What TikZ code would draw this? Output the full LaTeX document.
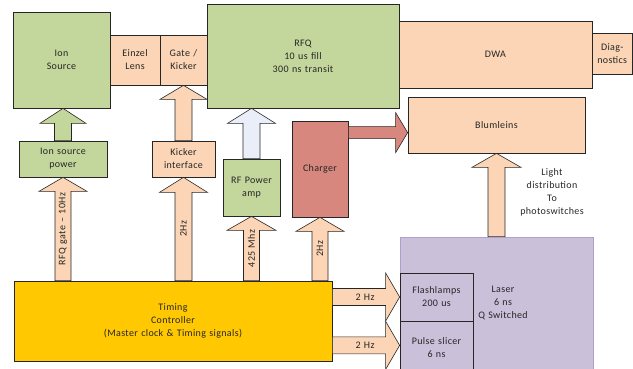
\documentclass[tikz,border=0pt]{standalone}
\usepackage{fontspec}
\setmainfont{Carlito}[LetterSpace=3.5,WordSpace=1.3]
\usetikzlibrary{calc}
\definecolor{cgreen}{HTML}{C3D69B}
\definecolor{cpeach}{HTML}{FBD5B5}
\definecolor{cblue}{HTML}{E9EEF8}
\definecolor{cred}{HTML}{D8877E}
\definecolor{cgold}{HTML}{FFC800}
\definecolor{cpurple}{HTML}{CAC0DA}
\definecolor{cpurpleline}{HTML}{B09FCB}
\definecolor{ctext}{HTML}{262626}
\newcommand\varr[6]{%
  \path[#1] let \p1=#2, \p2=#3 in
   (\x1-#4pt,\y2) -- (\x1-#4pt,\y1-#6pt) -- (\x1-#5pt,\y1-#6pt) -- (\x1,\y1)
   -- (\x1+#5pt,\y1-#6pt) -- (\x1+#4pt,\y1-#6pt) -- (\x1+#4pt,\y2) -- cycle;}
\newcommand\harr[6]{%
  \path[#1] let \p1=#2, \p2=#3 in
   (\x2,\y1-#4pt) -- (\x1-#6pt,\y1-#4pt) -- (\x1-#6pt,\y1-#5pt) -- (\x1,\y1)
   -- (\x1-#6pt,\y1+#5pt) -- (\x1-#6pt,\y1+#4pt) -- (\x2,\y1+#4pt) -- cycle;}
\begin{document}
\begin{tikzpicture}[x=1pt,y=-1pt,
  every node/.style={font=\fontsize{10}{13}\selectfont, text=ctext},
  box/.style={draw=black!85, line width=0.7pt, inner sep=0pt, align=center},
  blockarr/.style={draw=black!85, line width=0.6pt, fill=#1},
  lbl/.style={inner sep=0pt, align=center}]
\useasboundingbox (0,0) rectangle (633,368);
% top row
\node[box, fill=cgreen, minimum width=97, minimum height=96] (ion) at (61.5,60) {Ion\\Source};
\node[box, fill=cpeach, minimum width=50, minimum height=50] (einzel) at (135,60) {Einzel\\Lens};
\node[box, fill=cpeach, minimum width=47, minimum height=50] (gate) at (183.5,60) {Gate /\\Kicker};
\node[box, fill=cgreen, minimum width=192, minimum height=104] (rfq) at (303,56) {RFQ\\10 us fill\\300 ns transit};
\node[box, fill=cpeach, minimum width=193, minimum height=67] (dwa) at (495.5,54.5) {DWA};
\node[box, fill=cpeach, minimum width=40.5, minimum height=41] (diag) at (612.25,53.5) {Diag-\\nostics};
\node[box, fill=cpeach, minimum width=177, minimum height=56] (blum) at (496.5,125) {Blumleins};
% middle row
\node[box, fill=cgreen, minimum width=88, minimum height=36] (isp) at (63,159) {Ion source\\power};
\node[box, fill=cpeach, minimum width=63, minimum height=36] (kick) at (183.5,159) {Kicker\\interface};
\node[box, fill=cgreen, minimum width=57, minimum height=57] (rfamp) at (251.5,187.5) {RF Power\\amp};
\node[box, fill=cred, minimum width=56, minimum height=96] (charger) at (320,169) {Charger};
% bottom row
\node[box, fill=cgold, minimum width=318, minimum height=80] (tim) at (173,321) {Timing\\Controller\\(Master clock \& Timing signals)};
\node[box, draw=cpurpleline, fill=cpurple, minimum width=193, minimum height=138] (laser) at (496.5,306) {};
\node[box, fill=cpurple, minimum width=73, minimum height=48] (flash) at (436.5,297) {Flashlamps\\200 us};
\node[box, fill=cpurple, minimum width=73, minimum height=54] (pulse) at (436.5,348) {Pulse slicer\\6 ns};
\node[lbl] (lasertxt) at (503,303) {Laser\\6 ns\\Q Switched};
\node[lbl] (light) at (552,192) {Light\\distribution\\To\\photoswitches};
% block arrows
\varr{blockarr=cpeach}{(isp.south)}{(tim.north)}{8}{24}{14}
\varr{blockarr=cgreen}{(isp.north |- ion.south)}{(isp.north)}{8.5}{23}{15}
\varr{blockarr=cpeach}{(kick.south)}{(tim.north)}{8.5}{24}{15}
\varr{blockarr=cpeach}{(gate.south)}{(kick.north)}{8.5}{23.5}{14}
\varr{blockarr=cpeach}{(rfamp.south)}{(tim.north)}{8}{24.5}{14}
\varr{blockarr=cblue}{(rfamp.north |- rfq.south)}{(rfamp.north)}{8.5}{24}{15}
\varr{blockarr=cpeach}{(charger.south)}{(tim.north)}{8}{24}{14}
\varr{blockarr=cpeach}{(blum.south)}{(laser.north)}{8.5}{24.5}{14}
\coordinate (cb) at ($(charger.north east)+(0,12)$);
\harr{blockarr=cred}{(blum.west |- cb)}{(charger.east)}{6}{20}{12}
\harr{blockarr=cpeach}{(flash.west)}{(tim.east)}{8.5}{24}{14}
\coordinate (pt) at ($(flash.south west)+(0,24)$);
\harr{blockarr=cpeach}{(pt)}{(tim.east)}{8.5}{24}{14}
% arrow labels
\path (isp.south) -- (isp.south |- tim.north) node[midway, rotate=90, lbl] {RFQ gate – 10Hz};
\path (kick.south) -- (kick.south |- tim.north) node[midway, rotate=90, lbl] {2Hz};
\path (rfamp.south) -- (rfamp.south |- tim.north) node[midway, rotate=90, lbl] {425 Mhz};
\path (charger.south) -- (charger.south |- tim.north) node[midway, rotate=90, lbl] {2Hz};
\path (tim.east |- flash.west) -- (flash.west) node[midway, xshift=-1pt, lbl] {2 Hz};
\path (tim.east |- pt) -- (pt) node[midway, xshift=-1pt, lbl] {2 Hz};
\end{tikzpicture}
\end{document}
